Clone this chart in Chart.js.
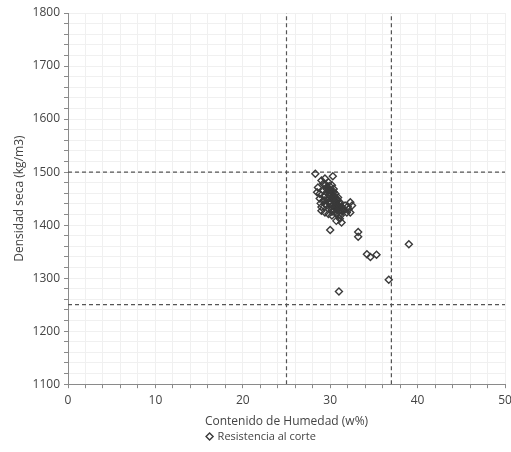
<!DOCTYPE html>
<html>
<head>
<meta charset="utf-8">
<script src="https://cdn.jsdelivr.net/npm/chart.js@4"></script>
<style>
  html, body { margin: 0; padding: 0; background: #fff; }
  #wrap { width: 511px; height: 452px; }
</style>
</head>
<body>
<div id="wrap"><canvas id="chart"></canvas></div>
<script>
// Humedad (w%) y densidad seca (kg/m3)
const humedad = [
  28.3, 30.3, 29.0, 29.4, 29.2, 29.8, 30.2, 28.6, 28.5, 28.8,
  29.2, 29.6, 30.4, 30.6, 30.0, 29.4, 28.8, 29.2, 29.8, 30.4,
  30.9, 31.1, 30.6, 30.0, 29.4, 29.0, 29.0, 29.4, 30.2, 30.7,
  31.3, 31.7, 32.3, 32.5, 32.1, 32.3, 31.9, 30.7, 31.1, 30.7,
  31.3, 30.2, 29.8, 29.7, 30.1, 30.8, 30.5, 31.0, 29.3, 30.0,
  30.5, 31.5, 29.6, 30.3, 31.2, 30.9, 29.9, 30.6, 31.4, 29.5,
  29.6, 29.9, 30.2, 30.4, 30.7, 30.9, 31.0, 30.3, 30.6, 30.8,
  29.7, 30.0, 30.3, 30.5, 30.8, 31.2, 29.4, 29.8, 30.1, 31.0,
  29.9, 30.4, 30.6, 31.1, 30.2, 29.5, 28.9, 31.6, 32.0, 30.5,
  30.0, 33.2, 33.2, 34.2, 34.6, 35.3, 39.0, 36.7, 31.0
];
const densidad = [
  1497, 1492, 1484, 1488, 1478, 1481, 1475, 1471, 1462, 1459,
  1465, 1468, 1468, 1459, 1459, 1456, 1450, 1446, 1450, 1450,
  1452, 1443, 1440, 1440, 1440, 1434, 1427, 1424, 1430, 1430,
  1434, 1437, 1443, 1437, 1430, 1424, 1424, 1421, 1412, 1408,
  1405, 1418, 1421, 1472, 1463, 1447, 1435, 1426, 1453, 1445,
  1428, 1431, 1437, 1455, 1418, 1436, 1466, 1444, 1427, 1476,
  1462, 1457, 1452, 1446, 1441, 1438, 1433, 1448, 1443, 1449,
  1470, 1466, 1461, 1454, 1436, 1429, 1447, 1443, 1435, 1419,
  1474, 1463, 1451, 1440, 1425, 1439, 1441, 1428, 1435, 1433,
  1391, 1387, 1378, 1345, 1340, 1344, 1364, 1297, 1275
];
// Líneas límite (discontinuas)
const limitesHumedad = [25, 37];
const limitesDensidad = [1250, 1500];
const xMin = 0, xMax = 50;
const yMin = 1100, yMax = 1800;

const puntos = humedad.map((x, i) => ({ x: x, y: densidad[i] }));

const lineaLimite = (data) => ({
  type: 'line',
  data: data,
  borderColor: '#555',
  borderWidth: 1.2,
  borderDash: [4, 3],
  pointRadius: 0,
  fill: false,
  showLine: true,
  esLimite: true
});

const datasets = [
  {
    type: 'scatter',
    label: 'Resistencia al corte',
    data: puntos,
    pointStyle: 'rectRot',
    pointRadius: 3.5,
    pointBorderWidth: 1.4,
    borderColor: '#3a3a3a',
    backgroundColor: 'rgba(255,255,255,0)'
  }
];
limitesHumedad.forEach(v => datasets.push(lineaLimite([{ x: v, y: yMin }, { x: v, y: yMax }])));
limitesDensidad.forEach(v => datasets.push(lineaLimite([{ x: xMin, y: v }, { x: xMax, y: v }])));

const fuente = { family: "'Open Sans', 'Noto Sans', sans-serif", size: 12 };

new Chart(document.getElementById('chart'), {
  type: 'scatter',
  data: { datasets: datasets },
  options: {
    responsive: true,
    maintainAspectRatio: false,
    animation: false,
    layout: { padding: { top: 13, right: 0, left: 12, bottom: 0 } },
    plugins: {
      tooltip: { enabled: false },
      legend: {
        position: 'bottom',
        labels: {
          usePointStyle: true,
          boxWidth: 5,
          boxHeight: 5,
          color: '#444',
          font: { family: fuente.family, size: 11 },
          padding: 2,
          filter: (item, data) => !data.datasets[item.datasetIndex].esLimite
        }
      }
    },
    scales: {
      x: {
        type: 'linear',
        min: xMin,
        max: xMax,
        border: { color: '#8a8a8a', width: 1 },
        grid: {
          color: '#f0f0f0',
          lineWidth: 1,
          tickLength: 4,
          tickColor: '#8a8a8a'
        },
        ticks: {
          stepSize: 2,
          autoSkip: false,
          maxRotation: 0,
          color: '#444',
          font: fuente,
          padding: 5,
          callback: v => (v % 10 === 0 ? v : '')
        },
        title: {
          display: true,
          text: 'Contenido de Humedad (w%)',
          color: '#444',
          font: fuente,
          padding: { top: 2, bottom: 0 }
        },
        afterFit: axis => { axis.paddingRight = 6; }
      },
      y: {
        type: 'linear',
        min: yMin,
        max: yMax,
        border: { color: '#8a8a8a', width: 1 },
        grid: {
          color: '#f0f0f0',
          lineWidth: 1,
          tickLength: 4,
          tickColor: '#8a8a8a'
        },
        ticks: {
          stepSize: 20,
          autoSkip: false,
          color: '#444',
          font: fuente,
          padding: 4,
          callback: v => (v % 100 === 0 ? v : '')
        },
        title: {
          display: true,
          text: 'Densidad seca (kg/m3)',
          color: '#444',
          font: fuente,
          padding: { top: 0, bottom: 2 }
        },
        afterFit: axis => { axis.width = 56; }
      }
    }
  }
});
</script>
</body>
</html>
